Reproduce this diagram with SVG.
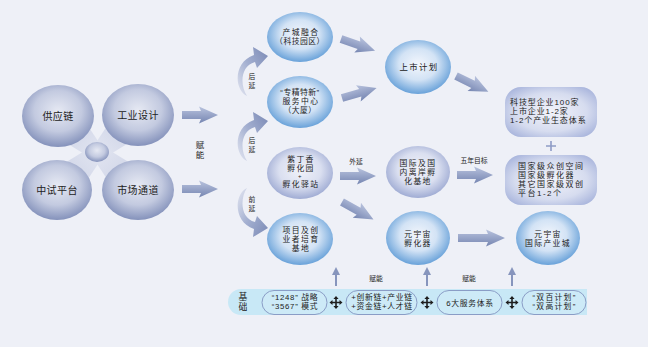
<svg xmlns="http://www.w3.org/2000/svg" xmlns:xlink="http://www.w3.org/1999/xlink" width="648" height="347" viewBox="0 0 648 347">
<defs>
<radialGradient id="gGrey" cx="50%" cy="42%" r="60%">
<stop offset="0" stop-color="#e6e9f3"/><stop offset="0.55" stop-color="#c3cae0"/><stop offset="1" stop-color="#7f8db8"/>
</radialGradient>
<radialGradient id="gBlue" cx="50%" cy="45%" r="58%">
<stop offset="0" stop-color="#f3f6fc"/><stop offset="0.5" stop-color="#d3e3f5"/><stop offset="1" stop-color="#5c9ad6"/>
</radialGradient>
<radialGradient id="gLav" cx="50%" cy="45%" r="58%">
<stop offset="0" stop-color="#f1f2f9"/><stop offset="0.55" stop-color="#dadff0"/><stop offset="1" stop-color="#98a5d0"/>
</radialGradient>
<radialGradient id="gRect" cx="50%" cy="50%" r="65%">
<stop offset="0" stop-color="#f2f3fa"/><stop offset="0.6" stop-color="#d6dcef"/><stop offset="1" stop-color="#a3b0da"/>
</radialGradient>
<linearGradient id="gArrow" x1="0" y1="0" x2="0" y2="1">
<stop offset="0" stop-color="#b9c3de"/><stop offset="1" stop-color="#7585b1"/>
</linearGradient>
<linearGradient id="gCurve" x1="0" y1="1" x2="1" y2="0">
<stop offset="0" stop-color="#e3e6f1"/><stop offset="0.5" stop-color="#a3afd0"/><stop offset="1" stop-color="#7a89b5"/>
</linearGradient>
<linearGradient id="gCone" x1="0" y1="0" x2="1" y2="1">
<stop offset="0" stop-color="#c9cfe4"/><stop offset="1" stop-color="#e4e7f2"/>
</linearGradient>
<path id="ba" d="M0,-4H19L17,-8.5L36,0L17,8.5L19,4H0Z"/>
<path id="bal" d="M0,-4H30L28,-8.5L47,0L28,8.5L30,4H0Z"/>
<path id="cone" d="M101.5,146.2L81,115.4L59,138.6L90.5,157.8Z"/>
<path id="crv" d="M247,96C234,90 233,62 254,55L253,47L268,56L257,68L255,62C240,66 240,86 247,96Z"/>
<g id="x4"><path d="M-4,0H4M0,-4V4" stroke="#1e1e1e" stroke-width="1.6"/><path d="M-6.5,0L-3.5,-2.6V2.6ZM6.5,0L3.5,-2.6V2.6ZM0,-6.5L-2.6,-3.5H2.6ZM0,6.5L-2.6,3.5H2.6Z" fill="#1e1e1e"/></g>
</defs>
<style>
text{font-family:'Liberation Sans','Noto Sans CJK SC',sans-serif;fill:#222;text-anchor:middle}
.t10{font-size:10px;letter-spacing:0.4px}
.t9{font-size:7.8px;letter-spacing:1.4px}
.n{letter-spacing:0.5px}
.tl{font-size:8px;text-anchor:start;letter-spacing:0.9px}
.tl2{font-size:8px;text-anchor:start;letter-spacing:1.5px}
.s{font-size:6.8px}
.pill{fill:#cdeaf7;stroke:#8a9dc6;stroke-width:1}
.pt{font-size:7.8px;letter-spacing:0.7px}
.arr{fill:url(#gArrow)}
.up{stroke:#8795bd;stroke-width:2;fill:none}
.uph{fill:#8795bd}
</style>
<rect width="648" height="347" fill="#eef0f7"/>

<g id="cluster-links">
<use xlink:href="#cone" fill="url(#gCone)"/>
<use xlink:href="#cone" fill="url(#gCone)" transform="matrix(-1,0,0,1,195,0)"/>
<use xlink:href="#cone" fill="url(#gCone)" transform="matrix(1,0,0,-1,0,305)"/>
<use xlink:href="#cone" fill="url(#gCone)" transform="matrix(-1,0,0,-1,195,305)"/>
</g>
<g id="n-center"><ellipse cx="97" cy="152" rx="12" ry="10" fill="url(#gGrey)"/></g>
<g id="n-gyl"><ellipse cx="58" cy="116" rx="36" ry="31" fill="url(#gGrey)"/><text class="t10" x="58" y="119.5">供应链</text></g>
<g id="n-gysj"><ellipse cx="138" cy="115" rx="36" ry="31" fill="url(#gGrey)"/><text class="t10" x="138" y="119">工业设计</text></g>
<g id="n-zspt"><ellipse cx="57" cy="190" rx="35" ry="30" fill="url(#gGrey)"/><text class="t10" x="57" y="194">中试平台</text></g>
<g id="n-sctd"><ellipse cx="138" cy="190" rx="36" ry="30" fill="url(#gGrey)"/><text class="t10" x="138" y="194">市场通道</text></g>

<g id="n-ccrh"><ellipse cx="300" cy="37" rx="33" ry="25" fill="url(#gBlue)"/><text class="t9"><tspan x="301" y="35">产城融合</tspan><tspan class="n" x="300" y="44">（科技园区）</tspan></text></g>
<g id="n-zjtx"><ellipse cx="300" cy="102" rx="33" ry="26" fill="url(#gBlue)"/><text class="t9"><tspan class="n" x="300" y="95">“专精特新”</tspan><tspan x="301" y="104">服务中心</tspan><tspan class="n" x="300" y="113">（大厦）</tspan></text></g>
<g id="n-zdx"><ellipse cx="300" cy="173" rx="33" ry="26" fill="url(#gLav)"/><text class="t9"><tspan x="301" y="162">紫丁香</tspan><tspan x="301" y="171">孵化园</tspan><tspan class="n" x="300" y="178" style="font-size:6px">+</tspan><tspan x="301" y="187">孵化驿站</tspan></text></g>
<g id="n-xmjd"><ellipse cx="300" cy="239" rx="33" ry="26" fill="url(#gBlue)"/><text class="t9"><tspan x="301" y="233">项目及创</tspan><tspan x="301" y="242">业者培育</tspan><tspan x="301" y="251">基地</tspan></text></g>

<g id="n-ssjh"><ellipse cx="418" cy="67" rx="33" ry="27" fill="url(#gBlue)"/><text class="t9" x="419" y="70" style="font-size:8.4px">上市计划</text></g>
<g id="n-gjfh"><ellipse cx="418" cy="172" rx="32" ry="26" fill="url(#gLav)"/><text class="t9"><tspan x="418" y="166">国际及国</tspan><tspan x="418" y="175">内离岸孵</tspan><tspan x="418" y="184">化基地</tspan></text></g>
<g id="n-yyzfh"><ellipse cx="418" cy="238" rx="32" ry="27" fill="url(#gBlue)"/><text class="t9"><tspan x="418" y="237">元宇宙</tspan><tspan x="418" y="246">孵化器</tspan></text></g>

<g id="n-goal1"><rect x="505" y="87" width="92" height="50" rx="16" fill="url(#gRect)"/><text class="tl"><tspan x="510" y="105">科技型企业100家</tspan><tspan x="510" y="114">上市企业1-2家</tspan><tspan x="510" y="123">1-2个产业生态体系</tspan></text></g>
<g id="plus"><path d="M546,146H556M551,141V151" stroke="#8e9cc6" stroke-width="1.6"/></g>
<g id="n-goal2"><rect x="505" y="155" width="92" height="50" rx="16" fill="url(#gRect)"/><text class="tl2"><tspan x="518" y="169">国家级众创空间</tspan><tspan x="518" y="178">国家级孵化器</tspan><tspan x="518" y="187">其它国家级双创</tspan><tspan x="518" y="196">平台1-2个</tspan></text></g>
<g id="n-yyzcyc"><ellipse cx="548" cy="238" rx="32" ry="27" fill="url(#gBlue)"/><text class="t9"><tspan x="548" y="237">元宇宙</tspan><tspan x="548" y="246">国际产业城</tspan></text></g>

<g id="connectors">
<use xlink:href="#ba" class="arr" transform="translate(182,115)"/>
<use xlink:href="#ba" class="arr" transform="translate(182,189)"/>
<use xlink:href="#ba" class="arr" transform="translate(341,39) rotate(19)"/>
<use xlink:href="#ba" class="arr" transform="translate(342,98) rotate(-16)"/>
<use xlink:href="#ba" class="arr" transform="translate(340,176)"/>
<use xlink:href="#ba" class="arr" transform="translate(342,202) rotate(29)"/>
<use xlink:href="#ba" class="arr" transform="translate(456,76) rotate(26)"/>
<use xlink:href="#ba" class="arr" transform="translate(457,175)"/>
<use xlink:href="#bal" class="arr" transform="translate(458,238)"/>
<use xlink:href="#crv" fill="url(#gCurve)"/>
<use xlink:href="#crv" fill="url(#gCurve)" transform="translate(0,65)"/>
<use xlink:href="#crv" fill="url(#gCurve)" transform="matrix(1,0,0,-1,0,284)"/>
<path class="up" d="M336,286V273M427,286V273M512,286V273"/>
<path class="uph" d="M332,275L336,267L340,275ZM423,275L427,267L431,275ZM508,275L512,267L516,275Z"/>
<text style="font-size:8.5px"><tspan x="200" y="148">赋</tspan><tspan x="200" y="158">能</tspan></text>
<text class="s"><tspan x="252" y="79">后</tspan><tspan x="252" y="87.5">延</tspan></text>
<text class="s"><tspan x="252" y="143">后</tspan><tspan x="252" y="151.5">延</tspan></text>
<text class="s"><tspan x="252" y="202">前</tspan><tspan x="252" y="210.5">延</tspan></text>
<text class="s" x="356" y="164">外延</text>
<text class="s" x="474" y="163">五年目标</text>
<text class="s" x="376" y="281">赋能</text>
<text class="s" x="469" y="281">赋能</text>
</g>

<g id="base">
<path d="M241,289H587V315H241A13,13 0 0,1 241,289Z" fill="#c8e8f6"/>
<text style="font-size:8.8px"><tspan x="243" y="300">基</tspan><tspan x="243" y="310">础</tspan></text>
</g>
<g id="p-1248"><rect class="pill" x="262" y="290.5" width="65" height="24" rx="12"/><text class="pt"><tspan x="295" y="299.5">“1248” 战略</tspan><tspan x="295" y="308.5">“3567” 模式</tspan></text></g>
<g id="p-chain"><rect class="pill" x="346" y="290.5" width="71" height="24" rx="12"/><text class="pt"><tspan x="382" y="299.5">+创新链+产业链</tspan><tspan x="382" y="308.5">+资金链+人才链</tspan></text></g>
<g id="p-six"><rect class="pill" x="437" y="290.5" width="65" height="24" rx="12"/><text class="pt" x="470" y="305.5">6大服务体系</text></g>
<g id="p-plan"><rect class="pill" x="522" y="290.5" width="64" height="24" rx="12"/><text class="pt" style="letter-spacing:1.3px"><tspan x="554.5" y="299.5">“双百计划”</tspan><tspan x="554.5" y="308.5">“双高计划”</tspan></text></g>
<g id="crosses">
<use xlink:href="#x4" transform="translate(336,302.5)"/>
<use xlink:href="#x4" transform="translate(427,302.5)"/>
<use xlink:href="#x4" transform="translate(512,302.5)"/>
</g>
</svg>
